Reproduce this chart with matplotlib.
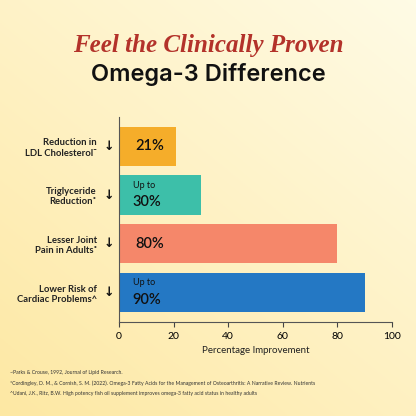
import matplotlib
matplotlib.use("Agg")
import matplotlib.pyplot as plt
import numpy as np

labels = ["Reduction in\nLDL Cholesterol˜", "Triglyceride\nReduction˚", "Lesser Joint\nPain in Adults˚", "Lower Risk of\nCardiac Problems^"]
values = [21, 30, 80, 90]
prefix = ["", "Up to", "", "Up to"]
colors = ["#f5ad2a", "#3dbfa9", "#f5876a", "#2478c4"]
footnotes = ["~Parks & Crouse, 1992, Journal of Lipid Research.",
             "*Cordingley, D. M., & Cornish, S. M. (2022). Omega-3 Fatty Acids for the Management of Osteoarthritis: A Narrative Review. Nutrients",
             "^Udani, J.K., Ritz, B.W. High potency fish oil supplement improves omega-3 fatty acid status in healthy adults"]

plt.rcParams['font.family'] = ['Lato', 'DejaVu Sans']
fig = plt.figure(figsize=(4.16, 4.16), dpi=100)
bg = fig.add_axes([0, 0, 1, 1]); bg.axis("off")
yy, xx = np.mgrid[0:1:200j, 0:1:200j]
t = np.clip(0.55*yy + 0.45*(1-xx), 0, 1)
c1 = np.array([1.0, 0.985, 0.90]); c2 = np.array([0.995, 0.91, 0.64])
img = c1[None, None, :]*(1-t[..., None]) + c2[None, None, :]*t[..., None]
bg.imshow(img, extent=[0, 1, 0, 1], aspect="auto", origin="upper")

fig.text(0.5, 0.89, "Feel the Clinically Proven", ha="center", va="center", family="Liberation Serif",
         style="italic", weight="bold", fontsize=18, color="#b3322a")
fig.text(0.5, 0.82, "Omega-3 Difference", ha="center", va="center", family="Inter", weight="semibold",
         fontsize=17, color="#111111")

ax = fig.add_axes([0.286, 0.226, 0.656, 0.493])
ax.patch.set_alpha(0)
y = np.arange(len(values))
ax.barh(y, values, height=0.8, color=colors)
ax.set_ylim(3.6, -0.6)
ax.set_xlim(0, 100)
for i, (v, p) in enumerate(zip(values, prefix)):
    if p:
        ax.text(5, i - 0.2, p, va="center", fontsize=6.5, color="#111")
        ax.text(5, i + 0.15, f"{v}%", va="center", fontsize=10.5, weight="semibold", color="#111")
    else:
        ax.text(6, i, f"{v}%", va="center", fontsize=10.5, weight="semibold", color="#111")
ax.set_yticks(y)
ax.set_yticklabels(labels, fontsize=6.8, weight="bold", color="#222")
for i in y:
    ax.text(-1.8, i, "↓", ha="right", va="center", fontsize=9, weight="bold", color="#111",
            family="DejaVu Sans")
ax.tick_params(axis="y", length=0, pad=16)
ax.tick_params(axis="x", labelsize=7.5, color="#444")
for s in ["top", "right"]:
    ax.spines[s].set_visible(False)
ax.spines["left"].set_color("#555")
ax.spines["bottom"].set_color("#555")
ax.set_xlabel("Percentage Improvement", fontsize=7, color="#222")
for i, f in enumerate(footnotes):
    fig.text(0.025, 0.1 - i*0.025, f, fontsize=3.7, color="#333")
fig.savefig("out.png", dpi=100)
